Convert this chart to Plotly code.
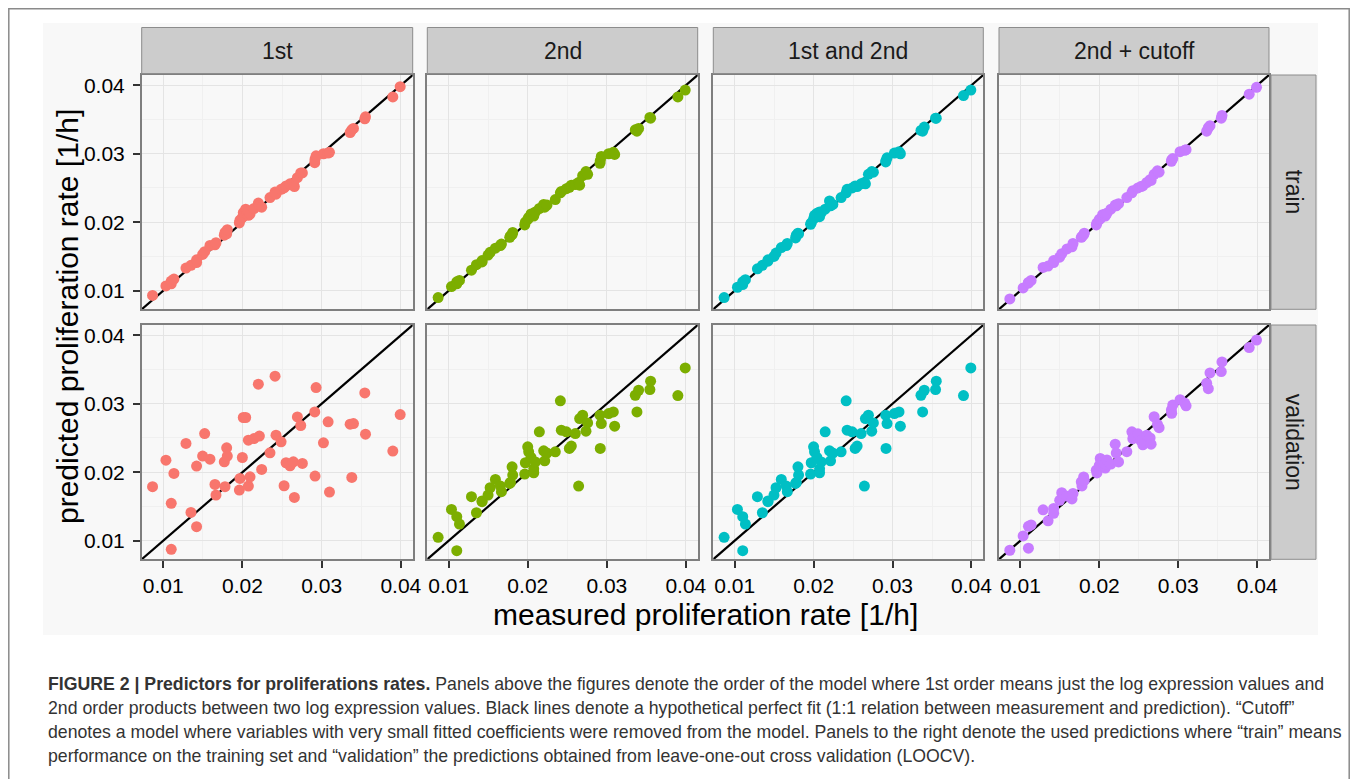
import plotly.graph_objects as go

# ---------------- data ----------------
models = ["1st", "2nd", "1st and 2nd", "2nd + cutoff"]
sets = ["train", "validation"]
colors = ["#F8766D", "#7CAE00", "#00BFC4", "#C77CFF"]
tick_vals = [0.01, 0.02, 0.03, 0.04]
tick_text = ["0.01", "0.02", "0.03", "0.04"]

measured = [0.00865, 0.01034, 0.01101, 0.01101, 0.01135, 0.01287, 0.01350, 0.01421, 0.01421, 0.01497,
            0.01523, 0.01590, 0.01653, 0.01666, 0.01771, 0.01780, 0.01801, 0.01809, 0.01961, 0.01969,
            0.01999, 0.02011, 0.02041, 0.02075, 0.02075, 0.02096, 0.02146, 0.02201, 0.02214, 0.02243,
            0.02348, 0.02412, 0.02424, 0.02488, 0.02526, 0.02551, 0.02601, 0.02643, 0.02656, 0.02694,
            0.02736, 0.02757, 0.02913, 0.02917, 0.02930, 0.03023, 0.03082, 0.03099, 0.03360, 0.03381,
            0.03402, 0.03545, 0.03554, 0.03899, 0.03992]

train_1st = [0.0093, 0.0107, 0.0110, 0.0114, 0.0117, 0.0133, 0.0137, 0.0141, 0.0145, 0.0153,
             0.0157, 0.0166, 0.0167, 0.0170, 0.0181, 0.0185, 0.0183, 0.0189, 0.0199, 0.0203,
             0.0207, 0.0214, 0.0219, 0.0210, 0.0216, 0.0212, 0.0220, 0.0228, 0.0224, 0.0222,
             0.0236, 0.0244, 0.0241, 0.0248, 0.0250, 0.0253, 0.0256, 0.0257, 0.0252, 0.0265,
             0.0272, 0.0272, 0.0287, 0.0292, 0.0297, 0.0300, 0.0301, 0.0302, 0.0331, 0.0335,
             0.0337, 0.0351, 0.0354, 0.0383, 0.0398]
train_2nd = [0.0090, 0.0106, 0.0110, 0.0113, 0.0115, 0.0130, 0.0138, 0.0142, 0.0144, 0.0152,
             0.0156, 0.0162, 0.0166, 0.0168, 0.0178, 0.0180, 0.0182, 0.0185, 0.0196, 0.0200,
             0.0204, 0.0207, 0.0212, 0.0209, 0.0213, 0.0215, 0.0220, 0.0226, 0.0222, 0.0225,
             0.0233, 0.0243, 0.0245, 0.0249, 0.0251, 0.0254, 0.0255, 0.0258, 0.0254, 0.0268,
             0.0274, 0.0270, 0.0286, 0.0290, 0.0296, 0.0300, 0.0302, 0.0299, 0.0335, 0.0333,
             0.0337, 0.0353, 0.0352, 0.0383, 0.0393]
train_both = [0.0090, 0.0105, 0.0109, 0.0113, 0.0116, 0.0132, 0.0137, 0.0143, 0.0145, 0.0150,
              0.0155, 0.0163, 0.0166, 0.0169, 0.0177, 0.0181, 0.0184, 0.0183, 0.0197, 0.0199,
              0.0205, 0.0210, 0.0213, 0.0208, 0.0215, 0.0214, 0.0219, 0.0231, 0.0224, 0.0226,
              0.0236, 0.0243, 0.0248, 0.0250, 0.0253, 0.0252, 0.0256, 0.0258, 0.0256, 0.0270,
              0.0274, 0.0273, 0.0288, 0.0290, 0.0294, 0.0301, 0.0303, 0.0300, 0.0334, 0.0333,
              0.0339, 0.0352, 0.0352, 0.0385, 0.0393]
train_cutoff = [0.0088, 0.0104, 0.0111, 0.0112, 0.0115, 0.0134, 0.0136, 0.0141, 0.0144, 0.0149,
                0.0154, 0.0161, 0.0164, 0.0169, 0.0178, 0.0179, 0.0182, 0.0184, 0.0196, 0.0199,
                0.0204, 0.0205, 0.0211, 0.0209, 0.0212, 0.0213, 0.0219, 0.0225, 0.0224, 0.0227,
                0.0236, 0.0243, 0.0246, 0.0250, 0.0252, 0.0253, 0.0258, 0.0262, 0.0261, 0.0270,
                0.0275, 0.0273, 0.0289, 0.0291, 0.0293, 0.0303, 0.0305, 0.0306, 0.0333, 0.0338,
                0.0341, 0.0352, 0.0356, 0.0387, 0.0397]

valid_1st = [0.01788, 0.02176, 0.01545, 0.00874, 0.01982, 0.02420, 0.01413, 0.01204, 0.02089, 0.02235,
             0.02565, 0.02191, 0.01822, 0.01666, 0.02152, 0.01788, 0.02356, 0.02235, 0.01739, 0.01909,
             0.02215, 0.02799, 0.02799, 0.02468, 0.01797, 0.01933, 0.02492, 0.03285, 0.02527, 0.02040,
             0.02283, 0.03402, 0.02541, 0.02444, 0.01802, 0.02138, 0.02094, 0.02152, 0.01632, 0.02808,
             0.02682, 0.02128, 0.02881, 0.01943, 0.03236, 0.02429, 0.02736, 0.01710, 0.02702, 0.01924,
             0.02711, 0.03158, 0.02556, 0.02308, 0.02842]
valid_2nd = [0.01049, 0.01457, 0.01350, 0.00854, 0.01243, 0.01642, 0.01408, 0.01569, 0.01580, 0.01666,
             0.01773, 0.01895, 0.01797, 0.01715, 0.01836, 0.01850, 0.02079, 0.01958, 0.01972, 0.02138,
             0.02371, 0.02298, 0.02215, 0.01992, 0.02050, 0.02150, 0.02590, 0.02313, 0.02167, 0.02280,
             0.02298, 0.03042, 0.02614, 0.02590, 0.02347, 0.02381, 0.02565, 0.01797, 0.02784, 0.02833,
             0.02600, 0.02720, 0.02833, 0.02347, 0.02711, 0.02857, 0.02881, 0.02672, 0.03124, 0.02881,
             0.03197, 0.03207, 0.03329, 0.03120, 0.03523]
valid_both = [0.01049, 0.01457, 0.01350, 0.00854, 0.01243, 0.01642, 0.01408, 0.01569, 0.01580, 0.01666,
              0.01773, 0.01895, 0.01797, 0.01715, 0.01836, 0.01850, 0.02079, 0.01958, 0.01972, 0.02138,
              0.02371, 0.02298, 0.02215, 0.01992, 0.02050, 0.02150, 0.02590, 0.02313, 0.02167, 0.02280,
              0.02298, 0.03042, 0.02614, 0.02590, 0.02347, 0.02381, 0.02565, 0.01797, 0.02784, 0.02833,
              0.02600, 0.02720, 0.02833, 0.02347, 0.02711, 0.02857, 0.02881, 0.02672, 0.03124, 0.02881,
              0.03197, 0.03207, 0.03329, 0.03120, 0.03523]
valid_cutoff = [0.0086, 0.0107, 0.0121, 0.0089, 0.0123, 0.0145, 0.0129, 0.0147, 0.0140, 0.0159,
                0.0170, 0.0165, 0.0161, 0.0169, 0.0186, 0.0180, 0.0193, 0.0188, 0.0203, 0.0199,
                0.0210, 0.0220, 0.0215, 0.0206, 0.0212, 0.0218, 0.0212, 0.0241, 0.0228, 0.0215,
                0.0230, 0.0259, 0.0249, 0.0256, 0.0246, 0.0240, 0.0254, 0.0250, 0.0241, 0.0281,
                0.0270, 0.0265, 0.0291, 0.0286, 0.0298, 0.0306, 0.0301, 0.0297, 0.0330, 0.0322,
                0.0345, 0.0347, 0.0361, 0.0382, 0.0393]

predicted = [[train_1st, train_2nd, train_both, train_cutoff],
             [valid_1st, valid_2nd, valid_both, valid_cutoff]]

caption_lines = [
    "<b>FIGURE 2 | Predictors for proliferations rates.</b> Panels above the figures denote the order of the model where 1st order means just the log expression values and",
    "2nd order products between two log expression values. Black lines denote a hypothetical perfect fit (1:1 relation between measurement and prediction). \u201cCutoff\u201d",
    "denotes a model where variables with very small fitted coefficients were removed from the model. Panels to the right denote the used predictions where \u201ctrain\u201d means",
    "performance on the training set and \u201cvalidation\u201d the predictions obtained from leave-one-out cross validation (LOOCV).",
]

# ---------------- layout geometry (page pixels) ----------------
OFF = 8                      # default body margin of the page
W, H = 1358 - 2 * OFF, 779 - OFF
FONT = "Liberation Sans, Arial, Helvetica, sans-serif"
col_px = [(141.7, 412.7), (427.3, 697.7), (713.3, 983.3), (999.0, 1269.0)]
row_px = [(75.0, 309.3), (325.0, 559.3)]
strip_top = (27.5, 73.5)
strip_right = (1271.0, 1316.0)
ax_range = [0.00728, 0.0415]


def px(x):
    return (x - OFF) / W


def py(y):
    return 1 - (y - OFF) / H


fig = go.Figure()
shapes = []
annotations = []

# background region and outer frame
shapes.append(dict(type="rect", xref="paper", yref="paper", layer="below",
                   x0=px(43), x1=px(1318), y0=py(635), y1=py(23),
                   fillcolor="#f8f8f8", line=dict(width=0)))
shapes.append(dict(type="rect", xref="paper", yref="paper", layer="below",
                   x0=px(8.8), x1=px(1349.2), y0=py(800), y1=py(8.8),
                   fillcolor="rgba(0,0,0,0)", line=dict(color="#8a8a8a", width=1.5)))

for r in range(2):
    for c in range(4):
        k = r * 4 + c + 1
        xa = "x" if k == 1 else f"x{k}"
        ya = "y" if k == 1 else f"y{k}"
        # 1:1 line
        fig.add_trace(go.Scatter(x=ax_range, y=ax_range, mode="lines",
                                 line=dict(color="black", width=2.2),
                                 xaxis=xa, yaxis=ya, showlegend=False, hoverinfo="skip"))
        fig.add_trace(go.Scatter(x=measured, y=predicted[r][c], mode="markers",
                                 marker=dict(color=colors[c], size=11, line=dict(width=0)),
                                 xaxis=xa, yaxis=ya, showlegend=False))
        bottom = (r == 1)
        left = (c == 0)
        common = dict(range=ax_range, tickvals=tick_vals, ticktext=tick_text,
                      showgrid=True, gridcolor="#e4e4e4", gridwidth=1,
                      minor=dict(tickvals=[0.015, 0.025, 0.035], showgrid=True,
                                 gridcolor="#f0f0f0", gridwidth=1, ticks=""),
                      zeroline=False, showline=True, mirror=True,
                      linecolor="#7f7f7f", linewidth=1.5,
                      tickcolor="#333333", tickwidth=1.5, ticklen=7,
                      tickfont=dict(family=FONT, size=21, color="black"),
                      fixedrange=True, automargin=False)
        x0, x1 = col_px[c]
        y0, y1 = row_px[r]
        fig.update_layout(**{
            ("xaxis" if k == 1 else f"xaxis{k}"): dict(
                common, domain=[px(x0), px(x1)], anchor=ya,
                ticks="outside" if bottom else "", showticklabels=bottom),
            ("yaxis" if k == 1 else f"yaxis{k}"): dict(
                common, domain=[py(y1), py(y0)], anchor=xa,
                ticks="outside" if left else "", showticklabels=left,
                ticklabelstandoff=4),
        })

# top strips
for c in range(4):
    x0, x1 = col_px[c]
    shapes.append(dict(type="rect", xref="paper", yref="paper",
                       x0=px(x0), x1=px(x1), y0=py(strip_top[1]), y1=py(strip_top[0]),
                       fillcolor="#cccccc", line=dict(color="#8c8c8c", width=1)))
    annotations.append(dict(xref="paper", yref="paper", x=px((x0 + x1) / 2),
                            y=py((strip_top[0] + strip_top[1]) / 2), text=models[c],
                            showarrow=False, xanchor="center", yanchor="middle",
                            font=dict(family=FONT, size=23, color="#1a1a1a")))
# right strips
for r in range(2):
    y0, y1 = row_px[r]
    shapes.append(dict(type="rect", xref="paper", yref="paper",
                       x0=px(strip_right[0]), x1=px(strip_right[1]), y0=py(y1), y1=py(y0),
                       fillcolor="#cccccc", line=dict(color="#8c8c8c", width=1)))
    annotations.append(dict(xref="paper", yref="paper", x=px(sum(strip_right) / 2),
                            y=py((y0 + y1) / 2), text=sets[r], textangle=90,
                            showarrow=False, xanchor="center", yanchor="middle",
                            font=dict(family=FONT, size=23, color="#1a1a1a")))

# axis titles
annotations.append(dict(xref="paper", yref="paper", x=px(705), y=py(614),
                        text="measured proliferation rate [1/h]", showarrow=False,
                        xanchor="center", yanchor="middle",
                        font=dict(family=FONT, size=30, color="black")))
annotations.append(dict(xref="paper", yref="paper", x=px(67), y=py(317),
                        text="predicted proliferation rate [1/h]", showarrow=False,
                        textangle=-90, xanchor="center", yanchor="middle",
                        font=dict(family=FONT, size=30, color="black")))

# caption
cap_y = [684, 708, 732, 756]
for line, yy in zip(caption_lines, cap_y):
    annotations.append(dict(xref="paper", yref="paper", x=px(46), y=py(yy),
                            text=line, showarrow=False, xanchor="left", yanchor="middle",
                            font=dict(family=FONT, size=17.7, color="#333333")))

fig.update_layout(width=W, height=H, margin=dict(l=0, r=0, t=0, b=0, autoexpand=False),
                  paper_bgcolor="white", plot_bgcolor="white",
                  shapes=shapes, annotations=annotations, showlegend=False)

fig.write_html("out.html")
